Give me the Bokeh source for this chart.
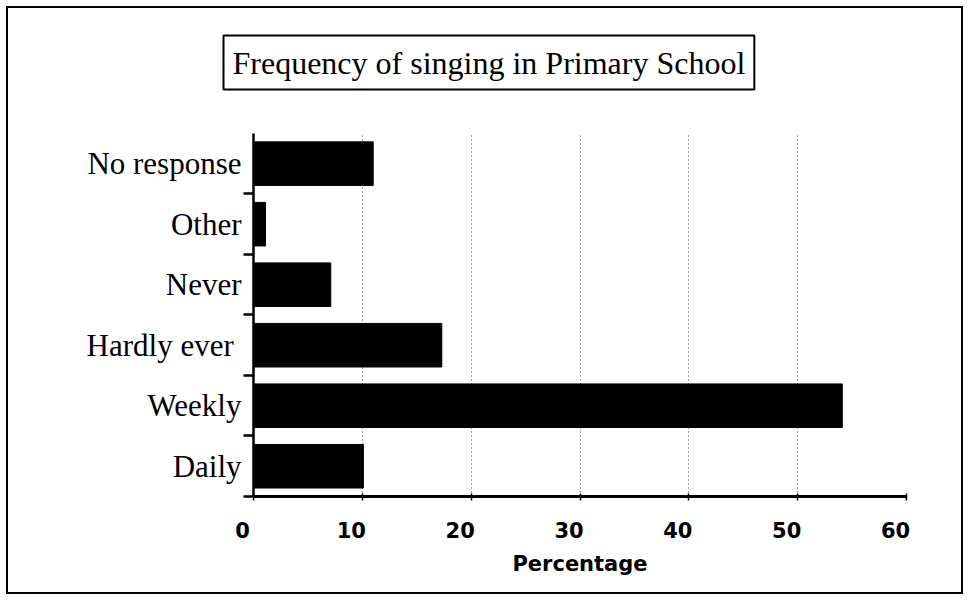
from bokeh.plotting import figure
from bokeh.models import FixedTicker, Range1d, Title, ColumnDataSource
from bokeh.embed import file_html
from bokeh.resources import INLINE

# Data (bottom to top)
categories = ["Daily", "Weekly", "Hardly  ever", "Never", "Other", "No response"]
values = [10.1, 54.1, 17.3, 7.1, 1.1, 11.0]
x_ticks = [0, 10, 20, 30, 40, 50, 60]
title_text = "Frequency of singing in Primary School"
x_label = "Percentage"

n = len(categories)
ypos = [i + 0.5 for i in range(n)]
src = ColumnDataSource(dict(y=ypos, v=values, cat=categories))

headroom = 0.56  # empty space between the title box and the top category
p = figure(width=957, height=588,
           x_range=Range1d(0, 60), y_range=Range1d(0, n + headroom),
           output_backend="svg", toolbar_location=None,
           min_border_left=245, min_border_right=59,
           min_border_top=91, min_border_bottom=100)
p.styles = {"border": "2px solid black", "margin": "6px 0px 0px 6px"}
p.outline_line_color = None
p.background_fill_color = "white"
p.border_fill_color = "white"

p.title = Title(text=title_text, align="left",
                text_font="Liberation Serif", text_font_size="32px",
                text_font_style="normal", text_color="black",
                border_line_color="black", border_line_width=2,
                background_fill_color="white",
                padding=9, standoff=20, offset=-30)

# bars
p.hbar(y="y", left=0, right="v", height=0.72, source=src,
       fill_color="black", line_color="black")

# y axis: labels at centres, ticks at boundaries
p.yaxis.bounds = (0, n)
p.yaxis.ticker = FixedTicker(ticks=ypos, minor_ticks=list(range(0, n)))
p.yaxis.major_label_overrides = {y: c for y, c in zip(ypos, categories)}
p.yaxis.major_tick_line_color = None
p.yaxis.major_tick_out = 0
p.yaxis.major_tick_in = 0
p.yaxis.minor_tick_in = 0
p.yaxis.minor_tick_out = 10
p.yaxis.minor_tick_line_width = 2.5
p.yaxis.minor_tick_line_color = "black"
p.yaxis.axis_line_width = 2.5
p.yaxis.axis_line_color = "black"
p.yaxis.major_label_standoff = 2
p.yaxis.major_label_text_font = "Liberation Serif"
p.yaxis.major_label_text_font_size = "31px"
p.yaxis.major_label_text_color = "black"

# x axis (labels nudged left with trailing no-break spaces, as in the reference)
p.xaxis.ticker = FixedTicker(ticks=x_ticks)
p.xaxis.major_label_overrides = {t: f"{t}\u00a0\u00a0\u00a0" for t in x_ticks}
p.xaxis.axis_line_width = 3
p.xaxis.axis_line_color = "black"
p.xaxis.major_tick_in = 3
p.xaxis.major_tick_out = 4
p.xaxis.major_tick_line_width = 1.5
p.xaxis.major_tick_line_color = "black"
p.xaxis.minor_tick_line_color = None
p.xaxis.major_label_standoff = 18
p.xaxis.major_label_text_font = "DejaVu Sans"
p.xaxis.major_label_text_font_style = "bold"
p.xaxis.major_label_text_font_size = "21px"
p.xaxis.major_label_text_color = "black"
p.xaxis.axis_label = x_label
p.xaxis.axis_label_standoff = 6
p.xaxis.axis_label_text_font = "DejaVu Sans"
p.xaxis.axis_label_text_font_style = "bold"
p.xaxis.axis_label_text_font_size = "21px"
p.xaxis.axis_label_text_color = "black"

# grid
p.xgrid.ticker = FixedTicker(ticks=x_ticks)
p.xgrid.grid_line_color = "#444444"
p.xgrid.grid_line_dash = "1 3"
p.xgrid.grid_line_width = 1
try:
    p.xgrid.cross_bounds = (0, n)
except AttributeError:
    pass
p.ygrid.visible = False

open("out.html", "w").write(file_html(p, INLINE))
